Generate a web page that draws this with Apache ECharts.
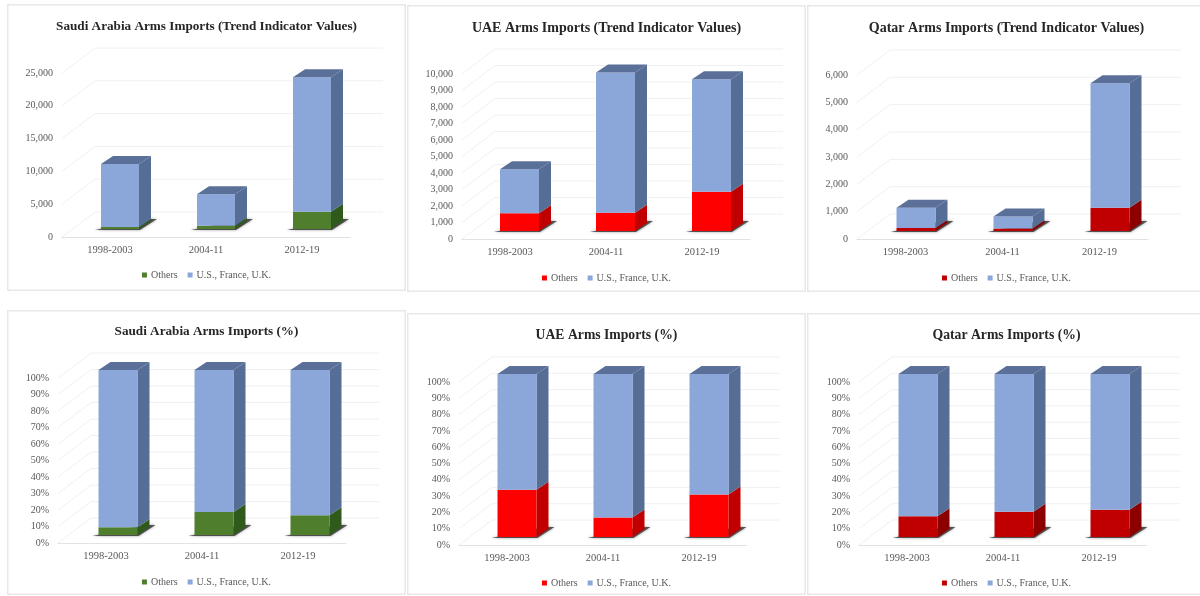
<!DOCTYPE html>
<html>
<head>
<meta charset="utf-8">
<style>
html,body{margin:0;padding:0;background:#fff;width:1200px;height:596px;overflow:hidden}
.panel{position:absolute;background:#fff;box-shadow:inset 0 0 0 1.5px #e8e8e8}
.panel div.c{position:absolute;left:0;top:0}
.panel div.c canvas{background:transparent}
</style>
<script src="https://cdn.jsdelivr.net/npm/echarts@6/dist/echarts.min.js"></script>
</head>
<body>
<script>
const categories = ['1998-2003', '2004-11', '2012-19'];
const othersName = 'Others';
const bigThreeName = 'U.S., France, U.K.';

const saudiTivOthers = [300, 500, 2640];
const saudiTivBigThree = [9600, 4800, 20500];
const uaeTivOthers = [1070, 1110, 2380];
const uaeTivBigThree = [2670, 8490, 6810];
const qatarTivOthers = [110, 90, 850];
const qatarTivBigThree = [740, 440, 4560];

const saudiPctOthers = [4.7, 14, 12];
const saudiPctBigThree = [95.3, 86, 88];
const uaePctOthers = [29, 12, 26];
const uaePctBigThree = [71, 88, 74];
const qatarPctOthers = [12.7, 15.5, 16.7];
const qatarPctBigThree = [87.3, 84.5, 83.3];

const saudiTivTicks = [0, 5000, 10000, 15000, 20000, 25000];
const uaeTivTicks = [0, 1000, 2000, 3000, 4000, 5000, 6000, 7000, 8000, 9000, 10000];
const qatarTivTicks = [0, 1000, 2000, 3000, 4000, 5000, 6000];
const pctTicks = [0, 10, 20, 30, 40, 50, 60, 70, 80, 90, 100];

const GREEN = {front: '#4f7f2c', side: '#2f5a1c'};
const RED = {front: '#ff0000', side: '#c00000'};
const DARKRED = {front: '#c00000', side: '#8c0000'};
const BLUE = {front: '#8ba6d8', side: '#566d95', top: '#5a7098'};

const charts = [
  {title: 'Saudi Arabia Arms Imports (Trend Indicator Values)', titleSize: 13.2, others: saudiTivOthers, big: saudiTivBigThree, ticks: saudiTivTicks, pct: false, color: GREEN,
   rect: [7, 4, 287], grid: [62, 350, 73, 237], shift: 10, barW: 38, titleY: 23, legendY: 274},
  {title: 'UAE Arms Imports (Trend Indicator Values)', titleSize: 14, others: uaeTivOthers, big: uaeTivBigThree, ticks: uaeTivTicks, pct: false, color: RED,
   rect: [407, 5, 287], grid: [462, 750, 74, 239], shift: 9.5, barW: 39, titleY: 24, legendY: 277},
  {title: 'Qatar Arms Imports (Trend Indicator Values)', titleSize: 14, others: qatarTivOthers, big: qatarTivBigThree, ticks: qatarTivTicks, pct: false, color: DARKRED,
   rect: [807, 5, 287], grid: [857, 1148, 75, 239], shift: 10.5, barW: 39, titleY: 24, legendY: 277},
  {title: 'Saudi Arabia Arms Imports (%)', titleSize: 13.2, others: saudiPctOthers, big: saudiPctBigThree, ticks: pctTicks, pct: true, color: GREEN,
   rect: [7, 310, 285], grid: [58, 346, 378, 543], shift: 12, barW: 39, titleY: 328, legendY: 581},
  {title: 'UAE Arms Imports (%)', titleSize: 13.7, others: uaePctOthers, big: uaePctBigThree, ticks: pctTicks, pct: true, color: RED,
   rect: [407, 313, 282], grid: [459, 747, 382, 545], shift: 10, barW: 39, titleY: 331, legendY: 582},
  {title: 'Qatar Arms Imports (%)', titleSize: 13.7, others: qatarPctOthers, big: qatarPctBigThree, ticks: pctTicks, pct: true, color: DARKRED,
   rect: [807, 313, 282], grid: [859, 1147, 382, 545], shift: 11, barW: 39, titleY: 331, legendY: 582}
];

const PANEL_W = 399, LIFT = 8, DEPTH_X = 12, DEPTH_Y = 8, BACK_X = 33, BACK_Y = 25;
const FONT = '"Liberation Serif", "Times New Roman", serif';

function barRenderer(cfg, colors, isTop) {
  return function (params, api) {
    const cat = api.value(0);
    const cx = api.coord([cat, 0])[0] + cfg.shift;
    const y0 = api.coord([cat, api.value(1)])[1] - LIFT;
    const y1 = api.coord([cat, api.value(2)])[1] - LIFT;
    const xl = cx - cfg.barW / 2, xr = cx + cfg.barW / 2;
    const children = [];
    if (!isTop) {
      children.push({type: 'polygon', shape: {points: [[xl - 6, y0 + 1], [xr + 1, y0 + 1], [xr + DEPTH_X + 6, y0 - DEPTH_Y - 2], [xr + DEPTH_X - 4, y0 - DEPTH_Y - 2]]},
        style: {fill: '#333', opacity: 0.8, shadowBlur: 3, shadowColor: 'rgba(0,0,0,0.5)'}});
    }
    children.push({type: 'polygon', shape: {points: [[xr, y0], [xr + DEPTH_X, y0 - DEPTH_Y], [xr + DEPTH_X, y1 - DEPTH_Y], [xr, y1]]}, style: {fill: colors.side}});
    children.push({type: 'rect', shape: {x: xl, y: y1, width: cfg.barW, height: y0 - y1}, style: {fill: colors.front}});
    if (isTop) {
      children.push({type: 'polygon', shape: {points: [[xl, y1], [xr, y1], [xr + DEPTH_X, y1 - DEPTH_Y], [xl + DEPTH_X, y1 - DEPTH_Y]]}, style: {fill: colors.top}});
    }
    return {type: 'group', children};
  };
}

function wallRenderer(params, api) {
  const y = api.coord([0, api.value(1)])[1];
  const l = params.coordSys.x, r = l + params.coordSys.width;
  return {type: 'polyline', shape: {points: [[l, y], [l + BACK_X, y - BACK_Y], [r + BACK_X, y - BACK_Y]]},
    style: {fill: 'none', stroke: '#f0f0f2', lineWidth: 1}};
}

charts.forEach(cfg => {
  const [px, py, ph] = cfg.rect;
  const [gl, gr, gt, gb] = cfg.grid;
  const panel = document.createElement('div');
  panel.className = 'panel';
  panel.style.cssText = `left:${px}px;top:${py}px;width:${PANEL_W}px;height:${ph}px`;
  const el = document.createElement('div');
  el.className = 'c';
  el.style.cssText = `width:${PANEL_W}px;height:${ph}px`;
  panel.appendChild(el);
  document.body.appendChild(panel);

  const topValue = cfg.ticks[cfg.ticks.length - 1];
  const chart = echarts.init(el, null, {renderer: 'canvas'});
  chart.setOption({
    animation: false,
    backgroundColor: 'transparent',
    title: {text: cfg.title, left: 'center', top: cfg.titleY - py - 8,
      textStyle: {fontFamily: FONT, fontSize: cfg.titleSize, fontWeight: 'bold', color: '#262626'}},
    legend: {data: [othersName, bigThreeName], left: 'center', top: cfg.legendY - py - 9, icon: 'rect', itemWidth: 5, itemHeight: 5, itemGap: 10,
      selectedMode: false, textStyle: {fontFamily: FONT, fontSize: 10, color: '#595959', padding: [0, 0, 0, -1]}},
    grid: {left: gl - px, width: gr - gl, top: gt - py, height: gb - gt},
    xAxis: {type: 'category', data: categories,
      axisLine: {lineStyle: {color: '#e2e2e2'}}, axisTick: {show: false},
      axisLabel: {fontFamily: FONT, fontSize: 10.5, color: '#595959', margin: 8}},
    yAxis: {type: 'value', min: 0, max: topValue, interval: cfg.ticks[1] - cfg.ticks[0],
      axisLine: {show: false}, axisTick: {show: false}, splitLine: {show: false},
      axisLabel: {fontFamily: FONT, fontSize: 10, color: '#595959', margin: 9,
        formatter: v => cfg.pct ? v + '%' : v.toLocaleString('en-US')}},
    series: [
      {type: 'custom', name: 'wall', silent: true, z: 1, renderItem: wallRenderer, clip: false,
       encode: {x: 0, y: 1}, data: cfg.ticks.map(t => [0, t])},
      {type: 'custom', name: othersName, z: 2, clip: false, itemStyle: {color: cfg.color.front},
       renderItem: barRenderer(cfg, cfg.color, false), encode: {x: 0, y: [1, 2]},
       data: cfg.others.map((v, i) => [i, 0, v])},
      {type: 'custom', name: bigThreeName, z: 3, clip: false, itemStyle: {color: BLUE.front},
       renderItem: barRenderer(cfg, BLUE, true), encode: {x: 0, y: [1, 2]},
       data: cfg.big.map((v, i) => [i, cfg.others[i], cfg.others[i] + v])}
    ]
  });
});
</script>
</body>
</html>
